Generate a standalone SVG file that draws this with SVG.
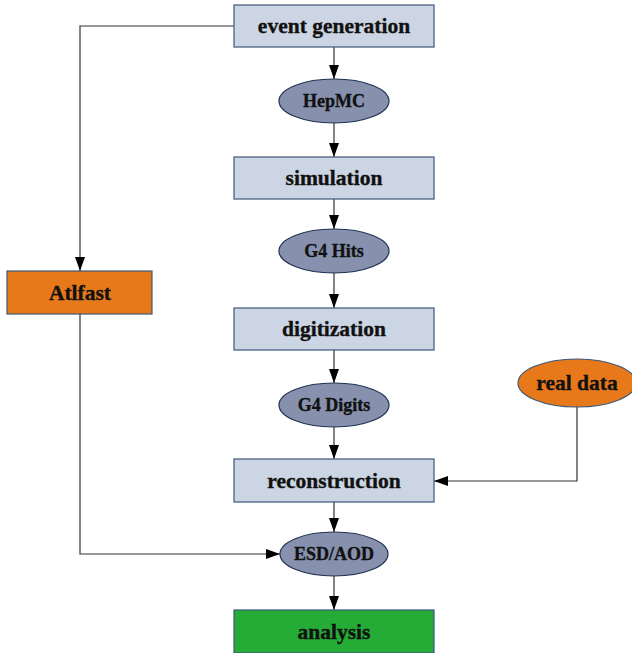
<svg xmlns="http://www.w3.org/2000/svg" width="632" height="653" viewBox="0 0 632 653">
  <style>
    .box { fill: #ccd5e3; stroke: #3d5878; stroke-width: 1.2; }
    .data { fill: #8791ae; stroke: #1f3050; stroke-width: 1.2; }
    .orange { fill: #e8791a; stroke: #3d5878; stroke-width: 1.2; }
    .green { fill: #24ac36; stroke: #3d5878; stroke-width: 1.2; }
    .lbl { font-family: "Liberation Serif", "Times New Roman", serif; font-weight: bold; fill: #111; stroke: #111; stroke-width: 0.35; text-anchor: middle; }
    .big { font-size: 21.5px; }
    .small { font-size: 18px; }
    .edge { fill: none; stroke: #333; stroke-width: 1.2; marker-end: url(#arrow); }
  </style>
  <defs>
    <marker id="arrow" viewBox="0 0 14 10" refX="14" refY="5" markerWidth="14" markerHeight="10" markerUnits="userSpaceOnUse" orient="auto">
      <path d="M0,0 L14,5 L0,10 z" fill="#000"/>
    </marker>
  </defs>

  <g id="connectors">
    <path class="edge" d="M334,47 V79"/>
    <path class="edge" d="M334,123 V157"/>
    <path class="edge" d="M334,199 V229"/>
    <path class="edge" d="M334,273 V308"/>
    <path class="edge" d="M334,350 V383"/>
    <path class="edge" d="M334,427 V459"/>
    <path class="edge" d="M334,502 V532"/>
    <path class="edge" d="M334,576 V610"/>
    <path class="edge" d="M234,26 H80 V271"/>
    <path class="edge" d="M80,314 V554 H280"/>
    <path class="edge" d="M577,407 V481 H434"/>
  </g>

  <g id="event-generation">
    <rect class="box" x="234" y="5" width="200" height="42"/>
    <text class="lbl big" x="334" y="33">event generation</text>
  </g>
  <g id="hepmc">
    <ellipse class="data" cx="334" cy="101" rx="55" ry="22"/>
    <text class="lbl small" x="334" y="107">HepMC</text>
  </g>
  <g id="simulation">
    <rect class="box" x="234" y="157" width="200" height="42"/>
    <text class="lbl big" x="334" y="185">simulation</text>
  </g>
  <g id="g4-hits">
    <ellipse class="data" cx="334" cy="251" rx="55" ry="22"/>
    <text class="lbl small" x="334" y="257">G4 Hits</text>
  </g>
  <g id="digitization">
    <rect class="box" x="234" y="308" width="200" height="42"/>
    <text class="lbl big" x="334" y="336">digitization</text>
  </g>
  <g id="g4-digits">
    <ellipse class="data" cx="334" cy="405" rx="55" ry="22"/>
    <text class="lbl small" x="334" y="411">G4 Digits</text>
  </g>
  <g id="reconstruction">
    <rect class="box" x="234" y="459" width="200" height="43"/>
    <text class="lbl big" x="334" y="488">reconstruction</text>
  </g>
  <g id="esd-aod">
    <ellipse class="data" cx="334" cy="554" rx="54" ry="22"/>
    <text class="lbl small" x="334" y="560">ESD/AOD</text>
  </g>
  <g id="analysis">
    <rect class="green" x="234" y="610" width="200" height="43"/>
    <text class="lbl big" x="334" y="639">analysis</text>
  </g>
  <g id="atlfast">
    <rect class="orange" x="7" y="271" width="145" height="43"/>
    <text class="lbl big" x="80" y="300">Atlfast</text>
  </g>
  <g id="real-data">
    <ellipse class="orange" cx="577" cy="383" rx="59" ry="24"/>
    <text class="lbl big" x="577" y="390">real data</text>
  </g>
</svg>
